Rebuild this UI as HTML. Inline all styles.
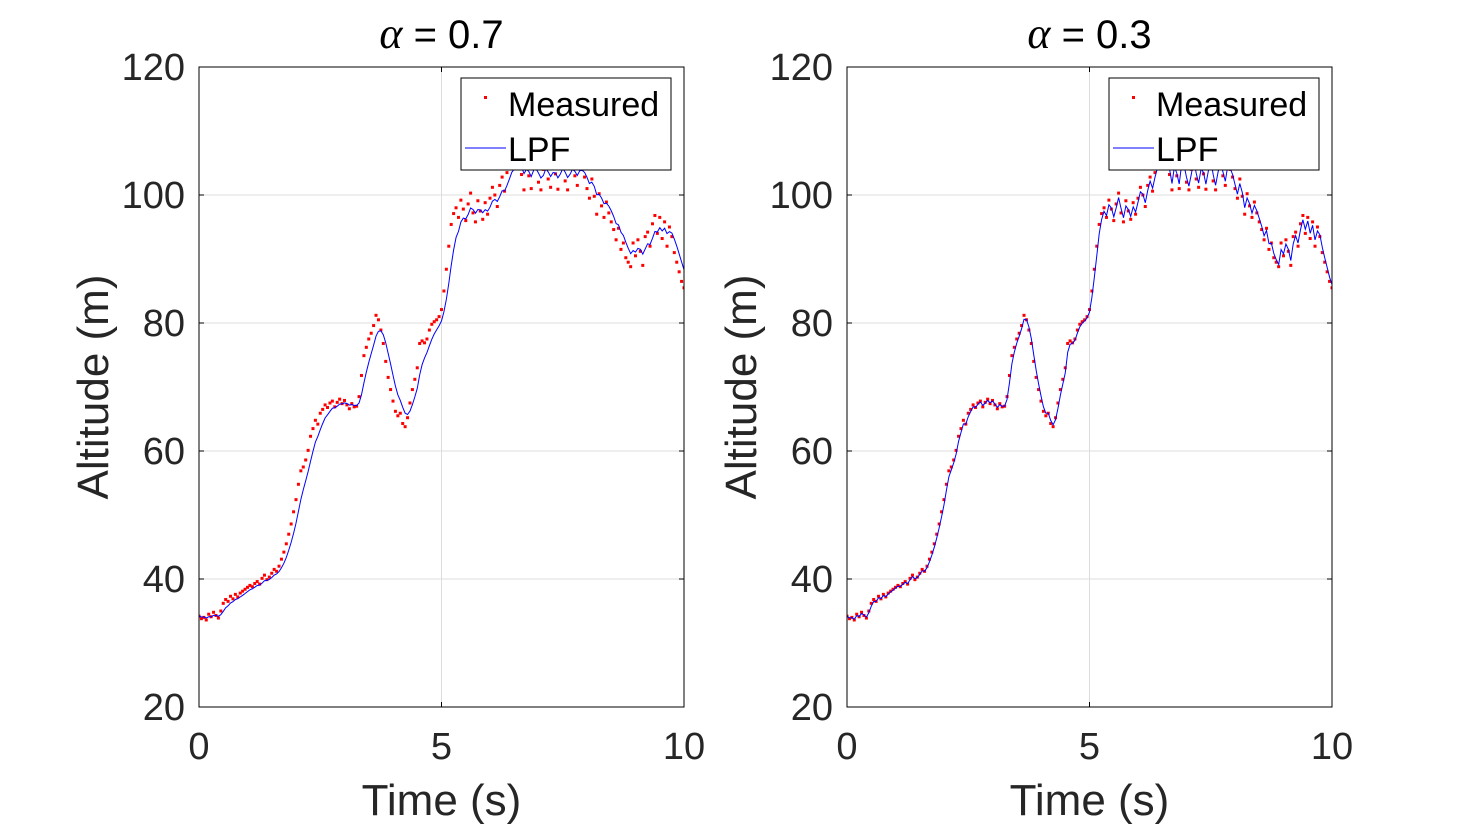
<!DOCTYPE html>
<html><head><meta charset="utf-8"><style>
body{margin:0;background:#fff;}
svg{display:block;font-family:"Liberation Sans",sans-serif;}
</style></head><body>
<svg id="chart" width="1473" height="824" viewBox="0 0 1473 824"></svg>
<script>
const measured=[34.2,33.8,34.0,33.6,34.5,34.1,34.8,34.3,33.9,35.0,
36.2,36.8,36.5,37.3,36.9,37.6,37.2,37.8,38.1,38.4,
38.7,39.0,38.8,39.3,39.6,39.2,40.1,40.6,39.9,40.3,
40.9,41.5,41.2,42.0,43.1,44.2,45.5,47.0,48.6,50.5,
52.4,54.8,56.9,57.5,58.6,60.1,62.3,63.5,64.8,64.2,
65.9,66.5,67.2,66.8,67.5,67.8,66.9,67.6,68.1,67.4,
67.9,67.2,66.6,67.4,66.9,67.0,68.5,71.8,74.9,76.2,
77.5,78.4,79.6,81.2,80.5,78.9,76.8,74.0,71.5,69.6,
67.8,66.2,65.5,65.9,64.3,63.8,65.2,67.5,69.6,71.2,
73.0,76.8,77.2,76.9,77.5,78.9,79.8,80.2,80.5,81.0,
82.1,85.0,88.4,92.0,95.4,97.1,98.0,96.5,99.2,97.8,
96.0,98.6,100.3,97.2,95.8,99.1,97.5,96.2,98.8,97.0,
99.5,101.2,100.0,98.2,101.5,102.8,100.6,103.5,104.8,106.0,
105.2,104.1,107.0,103.2,100.8,105.5,103.0,101.0,106.2,104.5,
102.0,100.8,104.0,106.5,102.5,101.2,105.0,103.3,100.9,104.6,
106.2,102.2,100.8,104.4,105.8,103.0,101.5,105.5,104.0,102.8,
101.0,99.5,102.5,99.8,97.0,100.2,98.3,96.5,98.9,97.2,
95.8,94.6,93.0,94.8,91.5,92.5,90.2,89.5,88.8,92.5,
90.5,93.0,91.2,89.0,93.5,94.2,92.0,95.5,96.8,94.0,
96.5,93.2,95.8,92.0,95.0,93.5,91.0,89.5,88.0,86.5,
85.5];
const timeStep=0.05;
const alphas=[0.7,0.3];
const xTicks=[0,5,10];
const yTicks=[20,40,60,80,100,120];
const NS="http://www.w3.org/2000/svg";
const svg=document.getElementById('chart');
function mk(tag,attrs,parent,text){const e=document.createElementNS(NS,tag);for(const k in attrs)e.setAttribute(k,attrs[k]);if(text!==undefined)e.textContent=text;(parent||svg).appendChild(e);return e;}
const panels=[{x0:199,x1:684},{x0:847,x1:1332}];
const yTop=67,yBot=707;
panels.forEach((p,pi)=>{
  const a=alphas[pi];
  const sx=t=>p.x0+(t-0)/(10-0)*(p.x1-p.x0);
  const sy=v=>yBot-(v-20)/(120-20)*(yBot-yTop);
  const g=mk('g',{});
  
  
  const cid='clip'+pi;
  const cp=mk('clipPath',{id:cid},g);mk('rect',{x:p.x0,y:yTop,width:p.x1-p.x0,height:yBot-yTop},cp);
  xTicks.forEach(t=>{const l=mk('line',{x1:sx(t),x2:sx(t),y1:yTop,y2:yBot,stroke:'#dcdcdc','stroke-width':1},g);});
  yTicks.forEach(t=>{const l=mk('line',{x1:p.x0,x2:p.x1,y1:sy(t),y2:sy(t),stroke:'#dcdcdc','stroke-width':1},g);});
  const dg=mk('g',{'clip-path':'url(#'+cid+')'},g);
  measured.forEach((v,i)=>{const c=mk('rect',{x:sx(i*timeStep)-1.5,y:sy(v)-1.5,width:3,height:3,fill:'#ff0000'},dg);});
  let y=measured[0];const pts=[];
  measured.forEach((v,i)=>{if(i>0)y=a*y+(1-a)*v;pts.push(sx(i*timeStep).toFixed(1)+','+sy(y).toFixed(1));});
  const pl=mk('polyline',{points:pts.join(' '),fill:'none',stroke:'#0000ff','stroke-width':1},dg);
  
  const box=mk('rect',{x:p.x0,y:yTop,width:p.x1-p.x0,height:yBot-yTop,fill:'none',stroke:'#000','stroke-width':1},g);
  
  xTicks.forEach(t=>{mk('line',{x1:sx(t),x2:sx(t),y1:yBot,y2:yBot-5,stroke:'#000'},g);mk('line',{x1:sx(t),x2:sx(t),y1:yTop,y2:yTop+5,stroke:'#000'},g);
    const tx=mk('text',{x:sx(t),y:759,'font-size':38,'text-anchor':'middle',fill:'#262626'},g,String(t));});
  yTicks.forEach(t=>{mk('line',{x1:p.x0,x2:p.x0+5,y1:sy(t),y2:sy(t),stroke:'#000'},g);mk('line',{x1:p.x1,x2:p.x1-5,y1:sy(t),y2:sy(t),stroke:'#000'},g);
    const tx=mk('text',{x:p.x0-14,y:sy(t)+13,'font-size':38,'text-anchor':'end',fill:'#262626'},g,String(t));});
  const xl=mk('text',{x:(p.x0+p.x1)/2,y:815,'font-size':44,'text-anchor':'middle',fill:'#262626'},g,'Time (s)');
  const yl=mk('text',{x:0,y:0,'font-size':44,'text-anchor':'middle',fill:'#262626',transform:'translate('+(p.x0-91)+','+(yTop+yBot)/2+') rotate(-90)'},g,'Altitude (m)');
  const ti=mk('text',{x:(p.x0+p.x1)/2,y:48,'font-size':40,'text-anchor':'middle',fill:'#000'},g);
  
  mk('tspan',{'font-family':'"Liberation Serif",serif','font-style':'italic','font-size':44},ti,'α');mk('tspan',{},ti,' = '+a);
  const lx=p.x1-223,lg=mk('g',{},g);
  
  mk('rect',{x:lx,y:78,width:210,height:92,fill:'#fff',stroke:'#000','stroke-width':1},lg);
  mk('rect',{x:lx+23,y:96,width:3,height:3,fill:'#ff0000'},lg);
  const t1=mk('text',{x:lx+47,y:116,'font-size':34,fill:'#000'},lg,'Measured');
  mk('line',{x1:lx+4,x2:lx+45,y1:148,y2:148,stroke:'#0000ff'},lg);
  const t2=mk('text',{x:lx+47,y:161,'font-size':34,fill:'#000'},lg,'LPF');
});
</script>
</body></html>
